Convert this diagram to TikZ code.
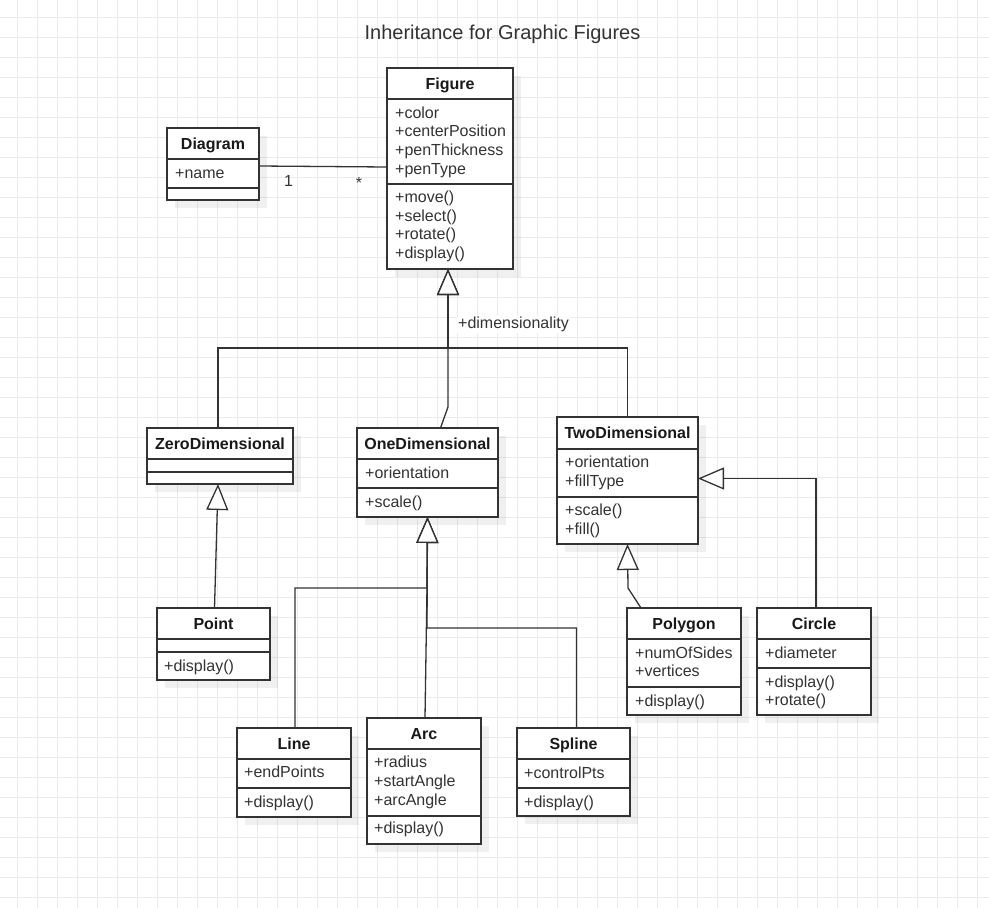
\documentclass[tikz,border=0pt]{standalone}
\usepackage{fontspec}
\setmainfont{Liberation Sans}
\usetikzlibrary{arrows.meta}

\definecolor{gridc}{HTML}{EBEBEB}
\definecolor{ink}{HTML}{333333}
\definecolor{txt}{HTML}{333333}

\tikzset{
  gridline/.style={draw=gridc, line width=1pt},
  umlbox/.style={rectangle, draw=ink, line width=1.3pt, fill=white, inner sep=0pt, outer sep=0pt},
  divider/.style={draw=ink, line width=1.3pt},
  boxshadow/.style={fill=black, fill opacity=0.06},
  header/.style={font=\fontsize{16}{19}\selectfont\bfseries, text=black!90, inner sep=0pt, anchor=base},
  member/.style={font=\fontsize{16}{19}\selectfont, text=txt, anchor=base west, inner sep=0pt},
  conn/.style={draw=ink, line width=1.3pt},
  inh/.style={conn, -{Triangle[width=22pt, length=26pt, fill=white, line width=1.3pt]}},
  tag/.style={font=\fontsize{16}{19}\selectfont, text=txt, inner sep=1pt},
  heading/.style={font=\fontsize{20}{24}\selectfont, text=txt, inner sep=0pt, anchor=base},
}

% class box: name, left, top, right, first divider, second divider, bottom, title
\newcommand\umlclass[8]{%
  \fill[boxshadow] ({#2+8},{#3+8}) rectangle ({#4+8},{#7+8});
  \node[umlbox, anchor=north west, minimum width={#4-#2}, minimum height={#7-#3}] (#1) at (#2,#3) {};
  \draw[divider] (#2,#5) -- (#4,#5) (#2,#6) -- (#4,#6);
  \node[header] (#1-title) at ({(#2+#4)/2},{(#3+#5)/2+5.5}) {#8};
}

% compartment text: name prefix, left, centre of first line, lines
\newcommand\members[4]{%
  \foreach \s [count=\i from 0] in {#4} {
    \node[member] (#1-\i) at (#2,{#3+5.5+18.6*\i}) {\s};
  }
}

\begin{document}
\begin{tikzpicture}[x=1pt, y=-1pt]
  \useasboundingbox (0,0) rectangle (989,908);
  \fill[white] (0,0) rectangle (989,908);

  % background grid
  \foreach \x in {17,37,...,977} \draw[gridline] (\x,0) -- (\x,908);
  \foreach \y in {17,37,...,897} \draw[gridline] (0,\y) -- (989,\y);

  % title
  \node[heading] (title) at (502.5,39) {Inheritance for Graphic Figures};

  % classes
  \umlclass{fig}{387}{68}{513}{99}{184}{269}{Figure}
  \members{fig-a}{395}{112.7}{+color,+centerPosition,+penThickness,+penType}
  \members{fig-m}{395}{197}{+move(),+select(),+rotate(),+display()}

  \umlclass{diag}{167}{128}{259}{159}{188}{200}{Diagram}
  \members{diag-a}{175}{172.7}{+name}

  \umlclass{zero}{147}{428}{293}{459}{472}{484}{ZeroDimensional}

  \umlclass{one}{357}{428}{498}{459}{488}{517}{OneDimensional}
  \members{one-a}{365}{472.7}{+orientation}
  \members{one-m}{365}{501.7}{+scale()}

  \umlclass{two}{557}{417}{698}{449}{497}{544}{TwoDimensional}
  \members{two-a}{565}{462.3}{+orientation,+fillType}
  \members{two-m}{565}{510}{+scale(),+fill()}

  \umlclass{point}{157}{608}{270}{639}{652}{680}{Point}
  \members{point-m}{164}{666}{+display()}

  \umlclass{line}{237}{728}{351}{759}{788}{817}{Line}
  \members{line-a}{244}{772.3}{+endPoints}
  \members{line-m}{244}{801.7}{+display()}

  \umlclass{arc}{367}{718}{481}{749}{816}{844}{Arc}
  \members{arc-a}{374}{762.3}{+radius,+startAngle,+arcAngle}
  \members{arc-m}{374}{828.3}{+display()}

  \umlclass{spline}{517}{728}{630}{759}{788}{816}{Spline}
  \members{spline-a}{524}{773}{+controlPts}
  \members{spline-m}{524}{801.7}{+display()}

  \umlclass{poly}{627}{608}{741}{639}{687}{715}{Polygon}
  \members{poly-a}{635}{652.7}{+numOfSides,+vertices}
  \members{poly-m}{635}{701}{+display()}

  \umlclass{circ}{757}{608}{871}{639}{668}{715}{Circle}
  \members{circ-a}{765}{652.7}{+diameter}
  \members{circ-m}{765}{681.7}{+display(),+rotate()}

  % association Diagram -- Figure
  \draw[conn] ([yshift=-2pt]diag.east) -- ([yshift=1.5pt]fig.west);
  \node[tag, anchor=base west] (mult-one) at (283,186) {1};
  \node[tag, anchor=base] (mult-many) at (359,188) {*};

  % generalisation towards Figure
  \coordinate (bus) at (448,348);
  \coordinate (onebend) at (448,407);
  \draw[inh] ([xshift=-2pt]zero.north) |- (bus) -- ([xshift=-2pt]fig.south);
  \draw[inh] (two.north) |- (bus) -- ([xshift=-2pt]fig.south);
  \draw[inh] ([xshift=13pt]one.north) -- (onebend) -- ([xshift=-2pt]fig.south);
  \node[tag, anchor=base west, fill=white] (dimlabel) at (457,328.5) {+dimensionality};

  % generalisation towards ZeroDimensional
  \draw[inh] ([xshift=1pt]point.north) -- ([xshift=-2pt]zero.south);

  % generalisation towards OneDimensional
  \coordinate (j1) at (427,588);
  \coordinate (j2) at (427,628);
  \draw[inh] ([xshift=1pt]line.north) |- (j1) -- (one.south);
  \draw[inh] ([xshift=1pt]arc.north) -- (j1) -- (one.south);
  \draw[inh] ([xshift=3pt]spline.north) |- (j2) -- (one.south);

  % generalisation towards TwoDimensional
  \coordinate (pbend) at (628,588);
  \draw[inh] ([xshift=-43pt]poly.north) -- (pbend) -- (two.south);
  \draw[inh] ([xshift=2pt]circ.north) |- ([yshift=2pt]two.east);
\end{tikzpicture}
\end{document}
